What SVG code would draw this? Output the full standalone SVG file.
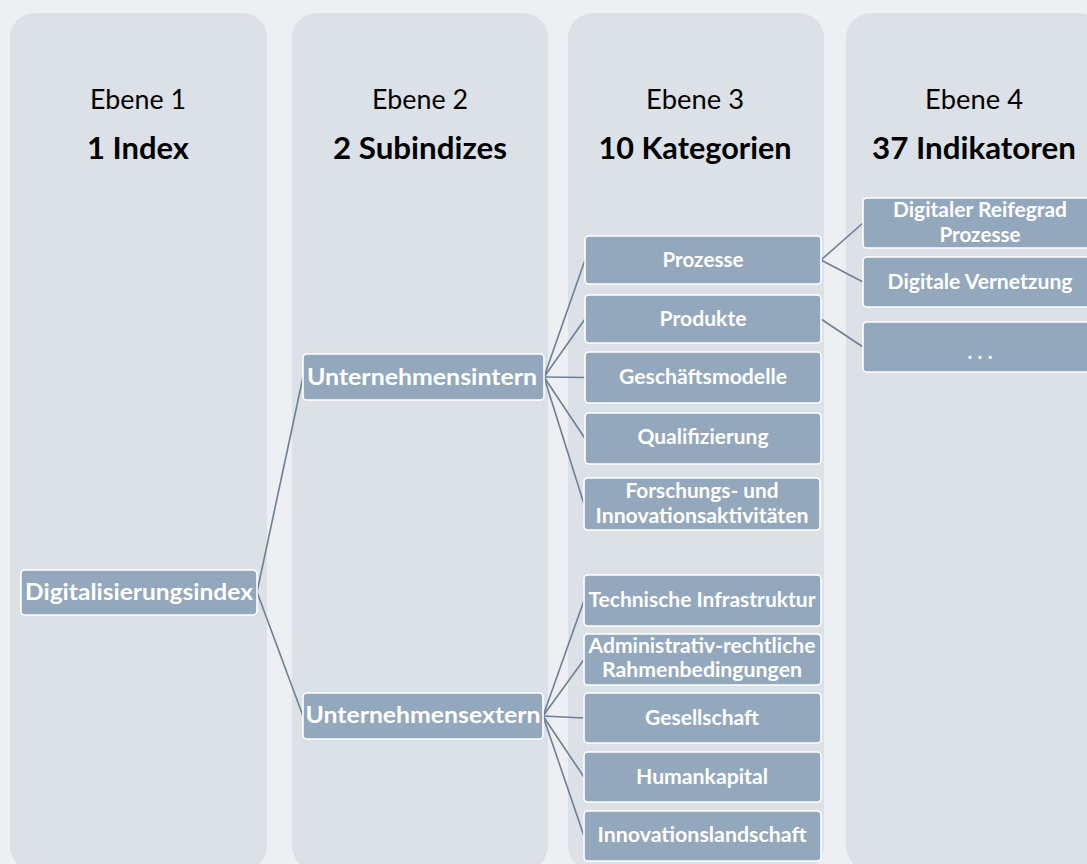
<svg xmlns="http://www.w3.org/2000/svg" width="1087" height="864" viewBox="0 0 1087 864">
<style>
.bg{fill:#EDEFF3}
.panel{fill:#DCE0E7}
.hd{font-family:Lato,"Open Sans","Liberation Sans",sans-serif;font-size:27px;fill:#000;text-anchor:middle}
.hb{font-family:Lato,"Open Sans","Liberation Sans",sans-serif;font-size:29.5px;font-weight:bold;fill:#000;text-anchor:middle}
.box{fill:#93A8BC;stroke:#FFFFFF;stroke-width:1.6}
.t1{font-family:Lato,"Open Sans","Liberation Sans",sans-serif;font-size:23.5px;font-weight:bold;fill:#FFFFFF;text-anchor:middle}
.t2{font-family:Lato,"Open Sans","Liberation Sans",sans-serif;font-size:20.5px;font-weight:bold;fill:#FFFFFF;text-anchor:middle}
.c{stroke:#6E7F96;stroke-width:1.6;fill:none}
</style>
<rect class="bg" x="0" y="0" width="1087" height="864"/>
<g id="panels">
<rect class="panel" x="10" y="13" width="257" height="858" rx="25"/>
<rect class="panel" x="292" y="13" width="256" height="858" rx="25"/>
<rect class="panel" x="568" y="13" width="256" height="858" rx="25"/>
<rect class="panel" x="846" y="13" width="257" height="858" rx="25"/>
</g>
<g id="headers">
<text class="hd" x="138" y="109" textLength="96" lengthAdjust="spacingAndGlyphs">Ebene 1</text>
<text class="hb" x="138" y="159" textLength="102" lengthAdjust="spacingAndGlyphs">1 Index</text>
<text class="hd" x="420" y="109" textLength="96" lengthAdjust="spacingAndGlyphs">Ebene 2</text>
<text class="hb" x="420" y="159" textLength="174" lengthAdjust="spacingAndGlyphs">2 Subindizes</text>
<text class="hd" x="695" y="109" textLength="98" lengthAdjust="spacingAndGlyphs">Ebene 3</text>
<text class="hb" x="695" y="159" textLength="193" lengthAdjust="spacingAndGlyphs">10 Kategorien</text>
<text class="hd" x="974" y="109" textLength="98" lengthAdjust="spacingAndGlyphs">Ebene 4</text>
<text class="hb" x="974" y="159" textLength="204" lengthAdjust="spacingAndGlyphs">37 Indikatoren</text>
</g>
<g id="connectors">
<line class="c" x1="257" y1="592" x2="303" y2="377" stroke="#5F6D82"/>
<line class="c" x1="257" y1="592" x2="303" y2="716" stroke="#5F6D82"/>
<line class="c" x1="544" y1="377" x2="585" y2="260"/>
<line class="c" x1="544" y1="377" x2="585" y2="319"/>
<line class="c" x1="544" y1="377" x2="585" y2="377.5"/>
<line class="c" x1="544" y1="377" x2="585" y2="438.5"/>
<line class="c" x1="544" y1="377" x2="584" y2="504"/>
<line class="c" x1="543" y1="716" x2="584" y2="600.5"/>
<line class="c" x1="543" y1="716" x2="584" y2="659.5"/>
<line class="c" x1="543" y1="716" x2="584" y2="718"/>
<line class="c" x1="543" y1="716" x2="584" y2="777"/>
<line class="c" x1="543" y1="716" x2="584" y2="836"/>
<line class="c" x1="821" y1="260" x2="863" y2="223"/>
<line class="c" x1="821" y1="260" x2="863" y2="282"/>
<line class="c" x1="821" y1="319" x2="863" y2="347"/>
</g>
<g id="n-digitalisierungsindex">
<rect class="box" x="21" y="570" width="236" height="45" rx="4"/>
<text class="t1" x="139" y="600" textLength="228" lengthAdjust="spacingAndGlyphs">Digitalisierungsindex</text>
</g>
<g id="n-unternehmensintern">
<rect class="box" x="303" y="354" width="241" height="46" rx="4"/>
<text class="t1" x="422" y="385" textLength="230" lengthAdjust="spacingAndGlyphs">Unternehmensintern</text>
</g>
<g id="n-unternehmensextern">
<rect class="box" x="303" y="693" width="240" height="46" rx="4"/>
<text class="t1" x="423" y="723" textLength="235" lengthAdjust="spacingAndGlyphs">Unternehmensextern</text>
</g>
<g id="n-prozesse">
<rect class="box" x="585" y="236" width="236" height="48" rx="4"/>
<text class="t2" x="703" y="267" textLength="81" lengthAdjust="spacingAndGlyphs">Prozesse</text>
</g>
<g id="n-produkte">
<rect class="box" x="585" y="295" width="236" height="48" rx="4"/>
<text class="t2" x="703" y="326" textLength="87" lengthAdjust="spacingAndGlyphs">Produkte</text>
</g>
<g id="n-geschaeftsmodelle">
<rect class="box" x="585" y="352" width="236" height="51" rx="4"/>
<text class="t2" x="703" y="384" textLength="168" lengthAdjust="spacingAndGlyphs">Geschäftsmodelle</text>
</g>
<g id="n-qualifizierung">
<rect class="box" x="585" y="413" width="236" height="51" rx="4"/>
<text class="t2" x="703" y="444" textLength="131" lengthAdjust="spacingAndGlyphs">Qualifizierung</text>
</g>
<g id="n-forschung">
<rect class="box" x="584" y="478" width="236" height="52" rx="4"/>
<text class="t2" x="702" y="498" textLength="153" lengthAdjust="spacingAndGlyphs">Forschungs- und</text>
<text class="t2" x="702" y="523" textLength="213" lengthAdjust="spacingAndGlyphs">Innovationsaktivitäten</text>
</g>
<g id="n-technische-infrastruktur">
<rect class="box" x="584" y="575" width="237" height="51" rx="4"/>
<text class="t2" x="702" y="607" textLength="227" lengthAdjust="spacingAndGlyphs">Technische Infrastruktur</text>
</g>
<g id="n-administrativ">
<rect class="box" x="584" y="634" width="237" height="51" rx="4"/>
<text class="t2" x="702" y="653" textLength="227" lengthAdjust="spacingAndGlyphs">Administrativ-rechtliche</text>
<text class="t2" x="702" y="677" textLength="200" lengthAdjust="spacingAndGlyphs">Rahmenbedingungen</text>
</g>
<g id="n-gesellschaft">
<rect class="box" x="584" y="693" width="237" height="50" rx="4"/>
<text class="t2" x="702" y="725" textLength="114" lengthAdjust="spacingAndGlyphs">Gesellschaft</text>
</g>
<g id="n-humankapital">
<rect class="box" x="584" y="752" width="237" height="50" rx="4"/>
<text class="t2" x="702" y="784" textLength="132" lengthAdjust="spacingAndGlyphs">Humankapital</text>
</g>
<g id="n-innovationslandschaft">
<rect class="box" x="584" y="811" width="237" height="50" rx="4"/>
<text class="t2" x="702" y="842" textLength="209" lengthAdjust="spacingAndGlyphs">Innovationslandschaft</text>
</g>
<g id="n-digitaler-reifegrad">
<rect class="box" x="863" y="198" width="235" height="50" rx="4"/>
<text class="t2" x="980" y="217" textLength="174" lengthAdjust="spacingAndGlyphs">Digitaler Reifegrad</text>
<text class="t2" x="980" y="242" textLength="81" lengthAdjust="spacingAndGlyphs">Prozesse</text>
</g>
<g id="n-digitale-vernetzung">
<rect class="box" x="863" y="257" width="235" height="50" rx="4"/>
<text class="t2" x="980" y="289" textLength="185" lengthAdjust="spacingAndGlyphs">Digitale Vernetzung</text>
</g>
<g id="n-ellipsis">
<rect class="box" x="863" y="322" width="235" height="50" rx="4"/>
<text class="t2" x="980" y="359" font-size="32" textLength="25" lengthAdjust="spacing">...</text>
</g>
</svg>
